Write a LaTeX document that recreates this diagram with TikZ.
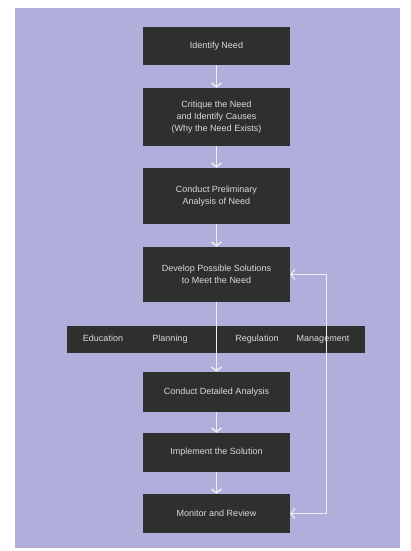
\documentclass[tikz,border=0pt]{standalone}
\usepackage{fontspec}
\setmainfont{Liberation Sans}
\usetikzlibrary{arrows.meta}
\definecolor{paperWhite}{HTML}{FFFFFF}
\definecolor{lavender}{HTML}{B2AEDB}
\definecolor{boxDark}{HTML}{2E302D}
\definecolor{textLight}{HTML}{D9D9DC}
\definecolor{arrowWhite}{HTML}{EDEDF6}
\tikzset{
    stage/.style={draw=none,fill=boxDark,minimum width=147pt,inner sep=2pt,
        align=center,text=textLight,font=\fontsize{9}{12}\selectfont},
    barlabel/.style={text=textLight,font=\fontsize{9}{11}\selectfont,inner sep=1pt,
        text height=6.5pt,text depth=2pt},
    arrow/.style={draw=arrowWhite,line width=1.4pt,
        -{Straight Barb[length=4pt,width=10pt,line width=1.4pt]}},
    feedback/.style={draw=arrowWhite,line width=1.2pt,
        {Straight Barb[length=4pt,width=10pt,line width=1.2pt]}-{Straight Barb[length=4pt,width=10pt,line width=1.2pt]}}
}
\begin{document}
\begin{tikzpicture}[x=1pt,y=-1pt]
    \useasboundingbox[fill=paperWhite] (0,0) rectangle (410,551);
    \fill[lavender] (15,8) rectangle (400,548);
    \node[stage,minimum height=38pt] (need) at (216.5,46) {Identify Need};
    \node[stage,minimum height=58pt] (cause) at (216.5,117) {Critique the Need\\and Identify Causes\\(Why the Need Exists)};
    \node[stage,minimum height=56pt] (prelim) at (216.5,196) {Conduct Preliminary\\Analysis of Need};
    \node[stage,minimum height=55pt] (develop) at (216.5,274.5) {Develop Possible Solutions\\to Meet the Need};
    \node[stage,minimum width=298pt,minimum height=27pt] (tools) at (216,339.5) {};
    \node[barlabel] (education) at (103,339.5) {Education};
    \node[barlabel] (planning) at (170,339.5) {Planning};
    \node[barlabel] (regulation) at (257,339.5) {Regulation};
    \node[barlabel] (management) at (323,339.5) {Management};
    \node[stage,minimum height=40pt] (detail) at (216.5,392) {Conduct Detailed Analysis};
    \node[stage,minimum height=39pt] (implement) at (216.5,452.5) {Implement the Solution};
    \node[stage,minimum height=39pt] (monitor) at (216.5,513.5) {Monitor and Review};
    % main flow
    \foreach \a/\b in {need/cause,cause/prelim,prelim/develop,develop/detail,detail/implement,implement/monitor} {
        \draw[arrow] (\a.south) -- (\b.north);
    }
    % loop back
    \draw[feedback] (develop.east) -- ++(36,0) |- (monitor.east);
\end{tikzpicture}
\end{document}
